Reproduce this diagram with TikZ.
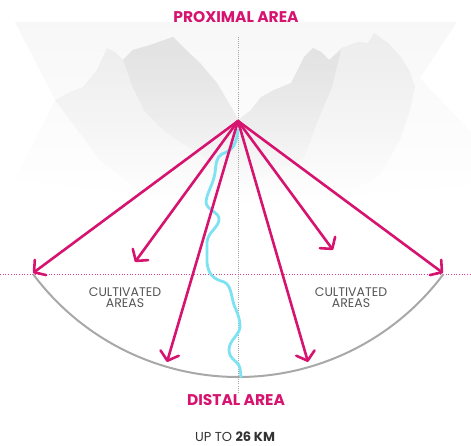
\documentclass[tikz,border=0pt]{standalone}
\usepackage{fontspec}
\setmainfont{Poppins}
\usetikzlibrary{arrows.meta,fadings}
\definecolor{flowpink}{RGB}{214,20,112}
\definecolor{riverblue}{RGB}{125,226,242}
\definecolor{arcgray}{RGB}{168,168,168}
\definecolor{labelgray}{RGB}{85,85,85}
\definecolor{mtlight}{RGB}{243,243,243}
\definecolor{mtmid}{RGB}{231,231,231}
\definecolor{mtdark}{RGB}{221,221,221}
\tikzfading[name=haze, top color=transparent!35, middle color=transparent!0,
  bottom color=transparent!100]
\tikzset{
  mountain/.style={fill=#1, draw=none, path fading=haze},
  flow/.style={draw=flowpink, line width=2.6pt, line cap=round, line join=round,
    -{Straight Barb[length=8pt,width=19pt,line cap=round,line join=round]}},
  river/.style={draw=riverblue, line width=2.8pt, line cap=round, line join=round},
  axisline/.style={draw=gray!70, line width=0.6pt, dash pattern=on 0.7pt off 1.4pt},
  levelline/.style={draw=flowpink!80, line width=0.8pt, dash pattern=on 0.9pt off 1.8pt},
  fanarc/.style={draw=arcgray, line width=2pt},
  title/.style={text=flowpink, font=\fontsize{15.5}{17}\selectfont\bfseries},
  area/.style={text=labelgray, font=\fontsize{12.5}{13}\selectfont, align=center},
  scale label/.style={text=black!80, font=\fontsize{13}{15}\selectfont,
    inner sep=0pt, anchor=base}
}
\begin{document}
\begin{tikzpicture}[x=1pt,y=-1pt]
\useasboundingbox (0,0) rectangle (471,446);

% hazy mountain range behind the vent
\fill[mountain=mtlight] (15,22) -- (457,22) -- (420,78) -- (471,132) -- (471,185)
  -- (238,205) -- (15,180) -- (55,100) -- cycle;
\fill[mountain=mtmid] (55,100) -- (70,92) -- (83,87) -- (97,70) -- (107,48) -- (115,52)
  -- (123,60) -- (133,50) -- (150,45) -- (173,37) -- (183,47) -- (200,63) -- (217,83)
  -- (233,110) -- (238,120) -- (238,205) -- (150,200) -- (100,160) -- cycle;
\fill[mountain=mtmid] (238,120) -- (251,110) -- (261,97) -- (274,90) -- (291,83)
  -- (304,57) -- (313,48) -- (321,52) -- (329,60) -- (341,48) -- (358,42) -- (368,43)
  -- (374,33) -- (388,43) -- (401,57) -- (410,72) -- (415,87) -- (410,110) -- (400,140)
  -- (380,175) -- (340,198) -- (238,205) -- cycle;
\fill[mountain=mtdark] (123,60) -- (133,50) -- (150,45) -- (173,37) -- (183,47) -- (200,63)
  -- (217,83) -- (233,110) -- (238,120) -- (238,185) -- (205,158) -- (165,132)
  -- (145,112) -- (133,88) -- cycle;
\fill[mountain=mtdark] (238,120) -- (251,110) -- (261,97) -- (274,90) -- (291,83)
  -- (304,57) -- (313,48) -- (321,52) -- (329,60) -- (341,50) -- (332,87) -- (318,120)
  -- (304,158) -- (270,175) -- (238,185) -- cycle;

% reference lines
\coordinate (axistop) at (238,37);
\coordinate (axisbottom) at (238,393);
\coordinate (levelL) at (0,274);
\coordinate (levelR) at (471,274);
\draw[axisline] (axistop) -- (axisbottom);
\draw[levelline] (levelL) -- (levelR);

% outer limit of the deposits
\coordinate (vent) at (238,121);
\coordinate (rimL) at (33,274);
\coordinate (rimR) at (443,274);
\draw[fanarc] (rimL) arc[start angle=143.3, end angle=36.7, radius=256];

% river running down from the vent
\coordinate (source) at (238,130);
\draw[river] (source) .. controls (236,145) and (233,150) .. (222,154)
  .. controls (216,157) and (216,165) .. (215,173)
  .. controls (213,185) and (207,192) .. (206,202)
  .. controls (206,210) and (220,212) .. (219,220)
  .. controls (218,228) and (208,232) .. (207,242)
  -- (207,262)
  .. controls (208,275) and (214,279) .. (224,282)
  .. controls (231,285) and (231,295) .. (234,305)
  .. controls (237,312) and (240,318) .. (240,327)
  .. controls (239,336) and (229,340) .. (229,350)
  .. controls (229,360) and (240,362) .. (240,368)
  -- (241,377);

% flow directions
\coordinate (endA) at (33,273);
\coordinate (endB) at (135,262);
\coordinate (endC) at (167,362);
\coordinate (endD) at (308,362);
\coordinate (endE) at (333,250);
\coordinate (endF) at (443,273);
\foreach \e in {endA,endB,endC,endD,endE,endF}
  \draw[flow] (vent) -- (\e);

% labels
\node[title] (proximal) at (236,17) {PROXIMAL AREA};
\node[title] (distal) at (236,400) {DISTAL AREA};
\node[area] (cropsL) at (125,298) {CULTIVATED\\[-2pt]AREAS};
\node[area] (cropsR) at (351,298) {CULTIVATED\\[-2pt]AREAS};
\node[scale label] (range) at (235,441.5) {UP TO \textbf{26 KM}};
\end{tikzpicture}
\end{document}
